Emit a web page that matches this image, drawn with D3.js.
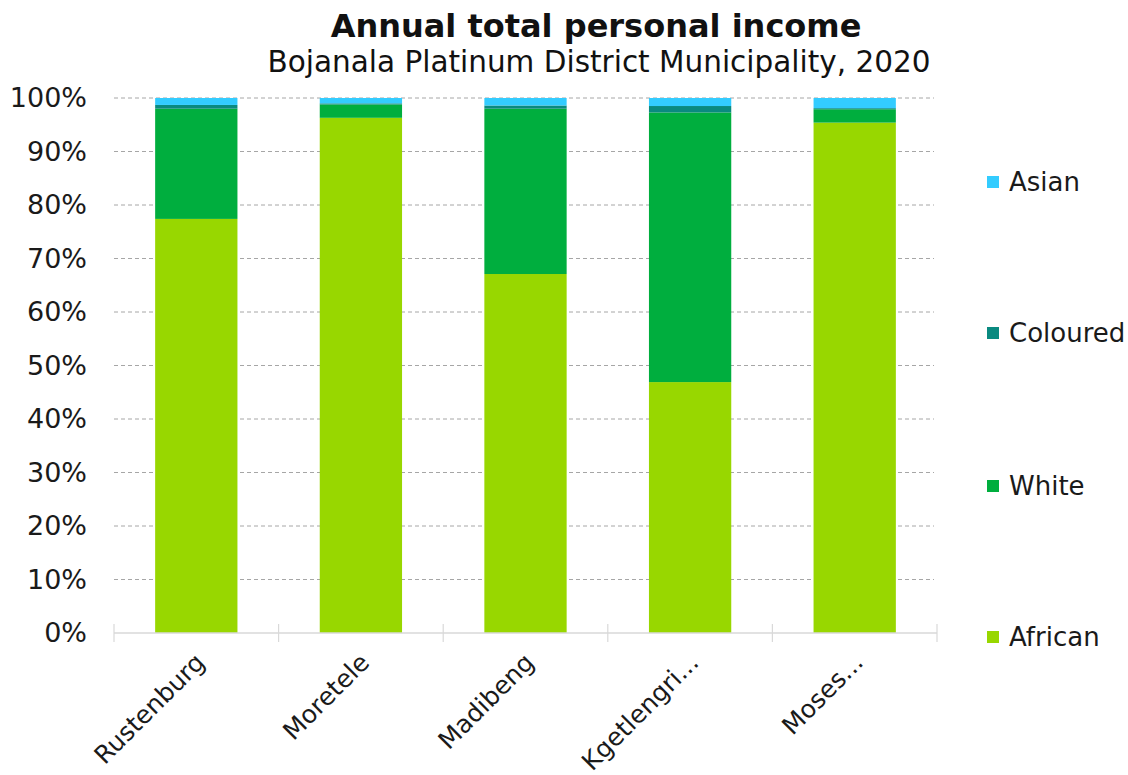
<!DOCTYPE html>
<html>
<head>
<meta charset="utf-8">
<script src="https://cdn.jsdelivr.net/npm/d3@7"></script>
<style>
  html, body { margin: 0; padding: 0; background: #fff; }
  svg { display: block; font-family: "DejaVu Sans", Verdana, sans-serif; }
</style>
</head>
<body>
<svg id="chart" width="1128" height="775"></svg>
<script>
// Municipalities (as labelled on the axis)
const categories = ["Rustenburg", "Moretele", "Madibeng", "Kgetlengri...", "Moses..."];
// Share of annual total personal income by population group (%)
const african  = [77.4, 96.3, 67.1, 46.9, 95.4];
const white    = [20.6,  2.5, 30.9, 50.4,  2.5];
const coloured = [ 0.7,  0.2,  0.6,  1.2,  0.2];
const asian    = [ 1.3,  1.0,  1.4,  1.5,  1.9];
const seriesNames = ["African", "White", "Coloured", "Asian"];
const seriesColors = ["#98d700", "#00ae3e", "#0a8a80", "#33ccff"];
const yTicks = [0, 10, 20, 30, 40, 50, 60, 70, 80, 90, 100];

const rows = categories.map((c, i) => ({
  name: c, African: african[i], White: white[i], Coloured: coloured[i], Asian: asian[i]
}));

const svg = d3.select("#chart");
const margin = { left: 114, right: 1128 - 937, top: 98, bottom: 775 - 633 };
const W = 1128, H = 775;

const x = d3.scaleBand().domain(categories).range([margin.left, W - margin.right]).paddingInner(0.5).paddingOuter(0.25);
const y = d3.scaleLinear().domain([0, 100]).range([H - margin.bottom, margin.top]);
const color = d3.scaleOrdinal().domain(seriesNames).range(seriesColors);

// Dashed gridlines
svg.append("g").selectAll("line")
  .data(yTicks.filter(t => t > 0))
  .join("line")
  .attr("x1", margin.left).attr("x2", W - margin.right - 3)
  .attr("y1", d => y(d)).attr("y2", d => y(d))
  .attr("stroke", "#a6a6a6").attr("stroke-width", 1)
  .attr("stroke-dasharray", "4,3");

// Y axis labels
const yAxis = svg.append("g")
  .attr("transform", `translate(${margin.left},0)`)
  .call(d3.axisLeft(y).tickValues(yTicks).tickFormat(d => d + "%").tickSize(0).tickPadding(27));
yAxis.select(".domain").remove();
yAxis.selectAll("text").attr("font-size", 27).attr("fill", "#1a1a1a")
  .attr("font-family", "'DejaVu Sans', Verdana, sans-serif");

// Stacked bars
const stack = d3.stack().keys(seriesNames);
const stacked = stack(rows);
svg.append("g").selectAll("g")
  .data(stacked)
  .join("g")
  .attr("fill", d => color(d.key))
  .selectAll("rect")
  .data(d => d)
  .join("rect")
  .attr("x", d => x(d.data.name))
  .attr("width", x.bandwidth())
  .attr("y", d => y(d[1]))
  .attr("height", d => y(d[0]) - y(d[1]));

// X axis with category separators
const step = x.step();
const boundaries = d3.range(categories.length + 1).map(i => margin.left + i * step);
const xAxisG = svg.append("g");
xAxisG.append("line")
  .attr("x1", margin.left).attr("x2", W - margin.right)
  .attr("y1", y(0)).attr("y2", y(0))
  .attr("stroke", "#d9d9d9").attr("stroke-width", 1.5);
xAxisG.selectAll("line.tick")
  .data(boundaries)
  .join("line")
  .attr("class", "tick")
  .attr("x1", d => d).attr("x2", d => d)
  .attr("y1", y(0) - 9).attr("y2", y(0) + 9)
  .attr("stroke", "#d9d9d9").attr("stroke-width", 1.2);

xAxisG.selectAll("text")
  .data(categories)
  .join("text")
  .attr("transform", d => `translate(${x(d) + x.bandwidth() / 2 + 10},${y(0) + 31}) rotate(-45)`)
  .attr("text-anchor", "end")
  .attr("font-size", 25)
  .attr("fill", "#1a1a1a")
  .text(d => d);

// Titles
svg.append("text")
  .attr("x", 596).attr("y", 37)
  .attr("text-anchor", "middle")
  .attr("font-size", 32).attr("font-weight", "bold").attr("fill", "#111")
  .text("Annual total personal income");
svg.append("text")
  .attr("x", 599).attr("y", 72)
  .attr("text-anchor", "middle")
  .attr("font-size", 29.5).attr("fill", "#111")
  .text("Bojanala Platinum District Municipality, 2020");

// Legend (top to bottom: Asian, Coloured, White, African)
const legendY = [182, 333, 486, 637];
const legendItems = seriesNames.slice().reverse();
const legend = svg.append("g").selectAll("g")
  .data(legendItems)
  .join("g")
  .attr("transform", (d, i) => `translate(987,${legendY[i]})`);
legend.append("rect")
  .attr("x", 0).attr("y", -6).attr("width", 12).attr("height", 12)
  .attr("fill", d => color(d));
legend.append("text")
  .attr("x", 22).attr("y", 0).attr("dy", "0.35em")
  .attr("font-size", 26).attr("fill", "#1a1a1a")
  .text(d => d);
</script>
</body>
</html>
